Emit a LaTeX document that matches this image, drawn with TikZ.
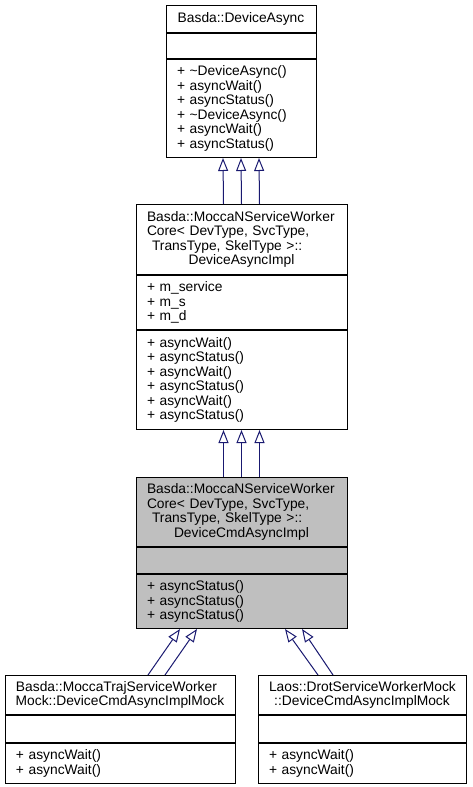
\documentclass[tikz,border=0pt]{standalone}
\usepackage{fontspec}
\setmainfont{Liberation Sans}
\usepackage{xcolor}
\usetikzlibrary{arrows.meta,positioning}

\definecolor{edgeblue}{HTML}{191970}
\definecolor{focusgray}{HTML}{BFBFBF}

\tikzset{
  umlpart/.style={draw=black, line width=1pt, fill=white, inner xsep=11pt, inner ysep=0pt,
    align=left, text width=#1, font=\fontsize{13.8}{14.5}\selectfont},
  inh/.style={draw=edgeblue, line width=1pt, -{Triangle[open, length=13pt, width=10pt]}}
}

\begin{document}
\begin{tikzpicture}[x=1pt,y=-1pt]
            \useasboundingbox (0,0) rectangle (472,787);
            % base class
            \node[umlpart=128pt, align=center, minimum height=27pt, anchor=north] (async) at (241,5) {Basda::DeviceAsync};
            \node[umlpart=128pt, minimum height=25pt, below=0pt of async] (async-a) {};
            \node[umlpart=128pt, minimum height=98pt, below=0pt of async-a] (async-m)
              {+ \textasciitilde DeviceAsync()\\+ asyncWait()\\+ asyncStatus()\\+ \textasciitilde DeviceAsync()\\+ asyncWait()\\+ asyncStatus()};
            % DeviceAsyncImpl
            \node[umlpart=189pt, minimum height=70pt, anchor=north] (impl) at (241.5,204)
              {Basda::MoccaNServiceWorker\\Core< DevType, SvcType,\\\hspace*{5pt}TransType, SkelType >::\\\makebox[\hsize]{DeviceAsyncImpl}};
            \node[umlpart=189pt, minimum height=54pt, below=0pt of impl] (impl-a) {+ m\_service\\+ m\_s\\+ m\_d};
            \node[umlpart=189pt, minimum height=99pt, below=0pt of impl-a] (impl-m)
              {+ asyncWait()\\+ asyncStatus()\\+ asyncWait()\\+ asyncStatus()\\+ asyncWait()\\+ asyncStatus()};
            % DeviceCmdAsyncImpl
            \node[umlpart=189pt, fill=focusgray, minimum height=69pt, anchor=north] (cmd) at (241.5,477)
              {Basda::MoccaNServiceWorker\\Core< DevType, SvcType,\\\hspace*{5pt}TransType, SkelType >::\\\makebox[\hsize]{DeviceCmdAsyncImpl}};
            \node[umlpart=189pt, fill=focusgray, minimum height=26pt, below=0pt of cmd] (cmd-a) {};
            \node[umlpart=189pt, fill=focusgray, minimum height=54pt, below=0pt of cmd-a] (cmd-m)
              {+ asyncStatus()\\+ asyncStatus()\\+ asyncStatus()};
            % mocks
            \node[umlpart=208pt, minimum height=39pt, anchor=north] (traj) at (120,675)
              {Basda::MoccaTrajServiceWorker\\\makebox[\hsize]{Mock::DeviceCmdAsyncImplMock}};
            \node[umlpart=208pt, minimum height=27pt, below=0pt of traj] (traj-a) {};
            \node[umlpart=208pt, minimum height=40pt, below=0pt of traj-a] (traj-m) {+ asyncWait()\\+ asyncWait()};
            \node[umlpart=186pt, minimum height=39pt, anchor=north] (drot) at (362,675)
              {Laos::DrotServiceWorkerMock\\\makebox[\hsize]{::DeviceCmdAsyncImplMock}};
            \node[umlpart=186pt, minimum height=27pt, below=0pt of drot] (drot-a) {};
            \node[umlpart=186pt, minimum height=40pt, below=0pt of drot-a] (drot-m) {+ asyncWait()\\+ asyncWait()};
            % inheritance
            \foreach \dx in {-18,0,18} {
              \draw[inh] ([xshift=\dx pt]impl.north) -- ([xshift=\dx pt]async-m.south);
              \draw[inh] ([xshift=\dx pt]cmd.north) -- ([xshift=\dx pt]impl-m.south);
            }
            \draw[inh] ([xshift=28pt]traj.north) -- ([xshift=-61.5pt]cmd-m.south);
            \draw[inh] ([xshift=45pt]traj.north) -- ([xshift=-44.5pt]cmd-m.south);
            \draw[inh] ([xshift=-44pt]drot.north) -- ([xshift=43.5pt]cmd-m.south);
            \draw[inh] ([xshift=-29pt]drot.north) -- ([xshift=60.5pt]cmd-m.south);
        \end{tikzpicture}
\end{document}
